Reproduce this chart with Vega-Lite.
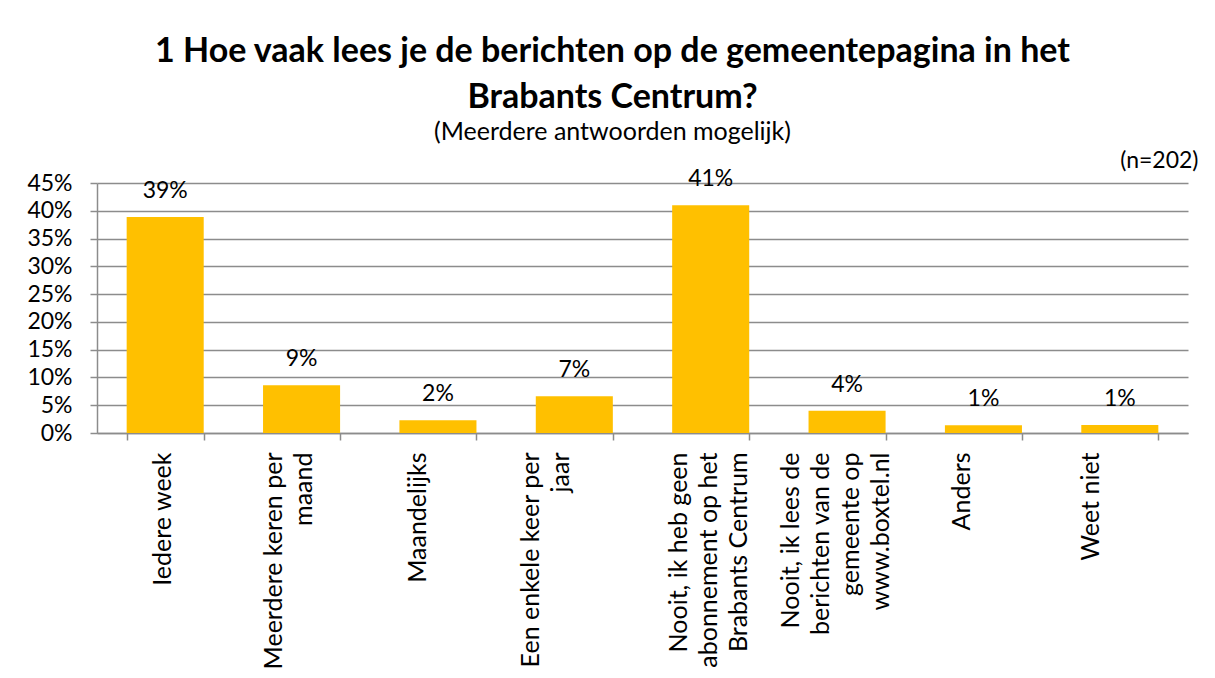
{
  "$schema": "https://vega.github.io/schema/vega-lite/v6.json",
  "width": 1091,
  "height": 250,
  "autosize": {"type": "none"},
  "padding": {"left": 97, "top": 183, "right": 27, "bottom": 245},
  "background": "white",
  "params": [
    {"name": "wrap", "expr": "{'Meerdere keren per maand': ['Meerdere keren per', 'maand'], 'Een enkele keer per jaar': ['Een enkele keer per', 'jaar'], 'Nooit, ik heb geen abonnement op het Brabants Centrum': ['Nooit, ik heb geen', 'abonnement op het', 'Brabants Centrum'], 'Nooit, ik lees de berichten van de gemeente op www.boxtel.nl': ['Nooit, ik lees de', 'berichten van de', 'gemeente op', 'www.boxtel.nl']}"}
  ],
  "title": {
    "text": ["1 Hoe vaak lees je de berichten op de gemeentepagina in het", "Brabants Centrum?"],
    "subtitle": "(Meerdere antwoorden mogelijk)",
    "anchor": "middle",
    "frame": "group",
    "dx": -30,
    "offset": 4,
    "font": "Lato",
    "fontSize": 34,
    "fontWeight": "bold",
    "color": "#000000",
    "lineHeight": 46,
    "subtitleFont": "Lato",
    "subtitleFontSize": 25,
    "subtitleColor": "#000000",
    "subtitlePadding": 5
  },
  "data": {
    "values": [
      {"antwoord": "Iedere week", "aandeel": 0.389},
      {"antwoord": "Meerdere keren per maand", "aandeel": 0.086},
      {"antwoord": "Maandelijks", "aandeel": 0.023},
      {"antwoord": "Een enkele keer per jaar", "aandeel": 0.066},
      {"antwoord": "Nooit, ik heb geen abonnement op het Brabants Centrum", "aandeel": 0.41},
      {"antwoord": "Nooit, ik lees de berichten van de gemeente op www.boxtel.nl", "aandeel": 0.04},
      {"antwoord": "Anders", "aandeel": 0.014},
      {"antwoord": "Weet niet", "aandeel": 0.0145}
    ]
  },
  "encoding": {
    "x": {
      "field": "antwoord",
      "type": "nominal",
      "sort": null,
      "scale": {"paddingInner": 0.435, "paddingOuter": 0.2175},
      "axis": {
        "title": null,
        "labelAngle": -90,
        "labelAlign": "right",
        "labelBaseline": "middle",
        "labelFont": "Lato",
        "labelFontSize": 25,
        "labelColor": "#000000",
        "labelLineHeight": 30,
        "labelPadding": 12,
        "labelExpr": "wrap[datum.label] || datum.label",
        "labelLimit": 0,
        "labelOffset": {
          "condition": [
            {"test": "datum.label == 'Iedere week'", "value": -3},
            {"test": "datum.label == 'Meerdere keren per maand'", "value": -28},
            {"test": "datum.label == 'Maandelijks'", "value": -20},
            {"test": "datum.label == 'Een enkele keer per jaar'", "value": -44},
            {"test": "datum.label == 'Nooit, ik heb geen abonnement op het Brabants Centrum'", "value": -32},
            {"test": "datum.label == 'Nooit, ik lees de berichten van de gemeente op www.boxtel.nl'", "value": -57},
            {"test": "datum.label == 'Anders'", "value": -22}
          ],
          "value": -29
        },
        "tickBand": "extent",
        "tickSize": 7,
        "tickColor": "#8c8c8c",
        "tickWidth": 1.5,
        "domainColor": "#8c8c8c",
        "domainWidth": 1.5,
        "grid": false
      }
    },
    "y": {
      "field": "aandeel",
      "type": "quantitative",
      "scale": {"domain": [0, 0.45], "nice": false},
      "axis": {
        "title": "(n=202)",
        "titleAngle": 0,
        "titleX": 1101,
        "titleY": -16,
        "titleAlign": "right",
        "titleBaseline": "alphabetic",
        "titleFont": "Lato",
        "titleFontSize": 23,
        "titleFontWeight": "normal",
        "titleColor": "#000000",
        "values": [0, 0.05, 0.1, 0.15, 0.2, 0.25, 0.3, 0.35, 0.4, 0.45],
        "format": ".0%",
        "labelFont": "Lato",
        "labelFontSize": 23,
        "labelColor": "#000000",
        "labelPadding": 18,
        "tickSize": 7,
        "tickColor": "#8c8c8c",
        "tickWidth": 1.5,
        "domainColor": "#8c8c8c",
        "domainWidth": 1.5,
        "grid": true,
        "gridColor": "#8c8c8c",
        "gridWidth": 1.5
      }
    }
  },
  "layer": [
    {"mark": {"type": "bar", "color": "#FFC000"}},
    {
      "mark": {"type": "text", "baseline": "alphabetic", "dy": -19, "font": "Lato", "fontSize": 23, "color": "#000000"},
      "encoding": {"text": {"field": "aandeel", "type": "quantitative", "format": ".0%"}}
    }
  ],
  "config": {"view": {"stroke": null}}
}
